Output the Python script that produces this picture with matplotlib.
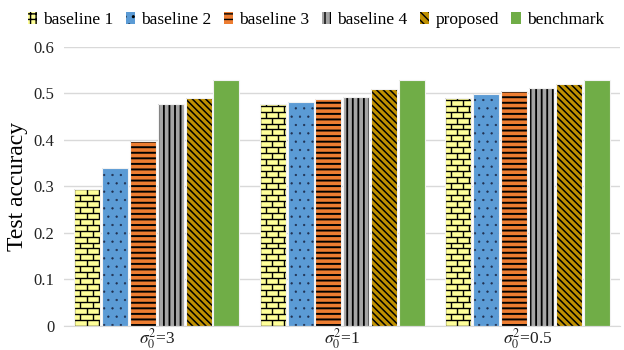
import numpy as np
import matplotlib
matplotlib.use("Agg")
import matplotlib.pyplot as plt
from matplotlib.patches import Patch
from matplotlib.collections import LineCollection

plt.rcParams["font.family"] = ["Liberation Serif", "DejaVu Serif"]
plt.rcParams["mathtext.fontset"] = "stix"

groups = [r"$\sigma_0^2$=3", r"$\sigma_0^2$=1", r"$\sigma_0^2$=0.5"]
methods = ["baseline 1", "baseline 2", "baseline 3", "baseline 4", "proposed", "benchmark"]
baseline1 = [0.295, 0.477, 0.490]
baseline2 = [0.340, 0.482, 0.499]
baseline3 = [0.398, 0.488, 0.505]
baseline4 = [0.477, 0.493, 0.512]
proposed = [0.490, 0.510, 0.520]
benchmark = [0.529, 0.529, 0.529]
series = [baseline1, baseline2, baseline3, baseline4, proposed, benchmark]

colors = ["#FFFF99", "#5B9BD5", "#ED7D31", "#A5A5A5", "#BF9000", "#70AD47"]
hatches = [None, "..", "---", "|||", "\\\\\\\\\\", None]
hatch_colors = ["black", "#1F2F4F", "black", "black", "black", "black"]
hatch_widths = [1.0, 0.4, 1.4, 1.3, 1.1, 1.0]
legend_hatches = ["+++", "..", "---", "|||", "\\\\\\\\", None]

fig = plt.figure(figsize=(6.24, 3.5), dpi=100)
ax = fig.add_axes([0.103, 0.069, 0.891, 0.797])

x = np.arange(len(groups))
slot = 0.15
width = 0.14


def add_bricks(ax, bar, bh=0.0128, bw=0.065):
    # brick pattern clipped to the bar rectangle
    x0, y0 = bar.get_x(), bar.get_y()
    w, h = bar.get_width(), bar.get_height()
    segs = []
    nrows = int(np.ceil(h / bh)) + 1
    for r in range(nrows):
        yb = y0 + r * bh
        segs.append([(x0, yb), (x0 + w, yb)])
        off = 0 if r % 2 == 0 else bw / 2
        xv = x0 + off - bw
        while xv < x0 + w + bw:
            segs.append([(xv, yb), (xv, yb + bh)])
            xv += bw
    lc = LineCollection(segs, colors="black", linewidths=1.0, zorder=3)
    ax.add_collection(lc)
    lc.set_clip_path(bar)


for i, vals in enumerate(series):
    pos = x + (i - 2.5) * slot
    plt.rcParams["hatch.linewidth"] = hatch_widths[i]
    bars = ax.bar(pos, vals, width, color=colors[i], hatch=hatches[i],
                  edgecolor=hatch_colors[i], linewidth=0, zorder=2)
    if i == 0:
        for b in bars:
            add_bricks(ax, b)
    ax.bar(pos, vals, width, fill=False, edgecolor="#F2F2F2",
           linewidth=0.8, zorder=4)

ax.set_xlim(-0.5, 2.5)
ax.set_ylim(0, 0.6)
ax.set_yticks(np.arange(0, 0.61, 0.1))
ax.set_yticklabels(["0", "0.1", "0.2", "0.3", "0.4", "0.5", "0.6"], fontsize=12)
ax.set_xticks(x)
ax.set_xticklabels(groups, fontsize=12.5)
ax.tick_params(axis="both", length=0, colors="#222222")
ax.tick_params(axis="y", pad=7)
ax.tick_params(axis="x", pad=0.5)
ax.grid(axis="y", color="#D9D9D9", linewidth=1.0, zorder=0)
ax.set_axisbelow(True)
for s in ["top", "right", "left"]:
    ax.spines[s].set_visible(False)
ax.spines["bottom"].set_color("#D9D9D9")
ax.set_ylabel("Test accuracy", fontsize=17)
ax.yaxis.set_label_coords(-0.066, 0.5)

plt.rcParams["hatch.linewidth"] = 1.0
handles = [Patch(facecolor=c, hatch=h, edgecolor="black", linewidth=0)
           for c, h in zip(colors, legend_hatches)]
fig.legend(handles, methods, loc="upper center", bbox_to_anchor=(0.506, 1.01),
           ncol=6, frameon=False, fontsize=12.5, handlelength=0.55,
           handleheight=0.6, handletextpad=0.35, columnspacing=0.7)

fig.savefig("out.png", dpi=100)
